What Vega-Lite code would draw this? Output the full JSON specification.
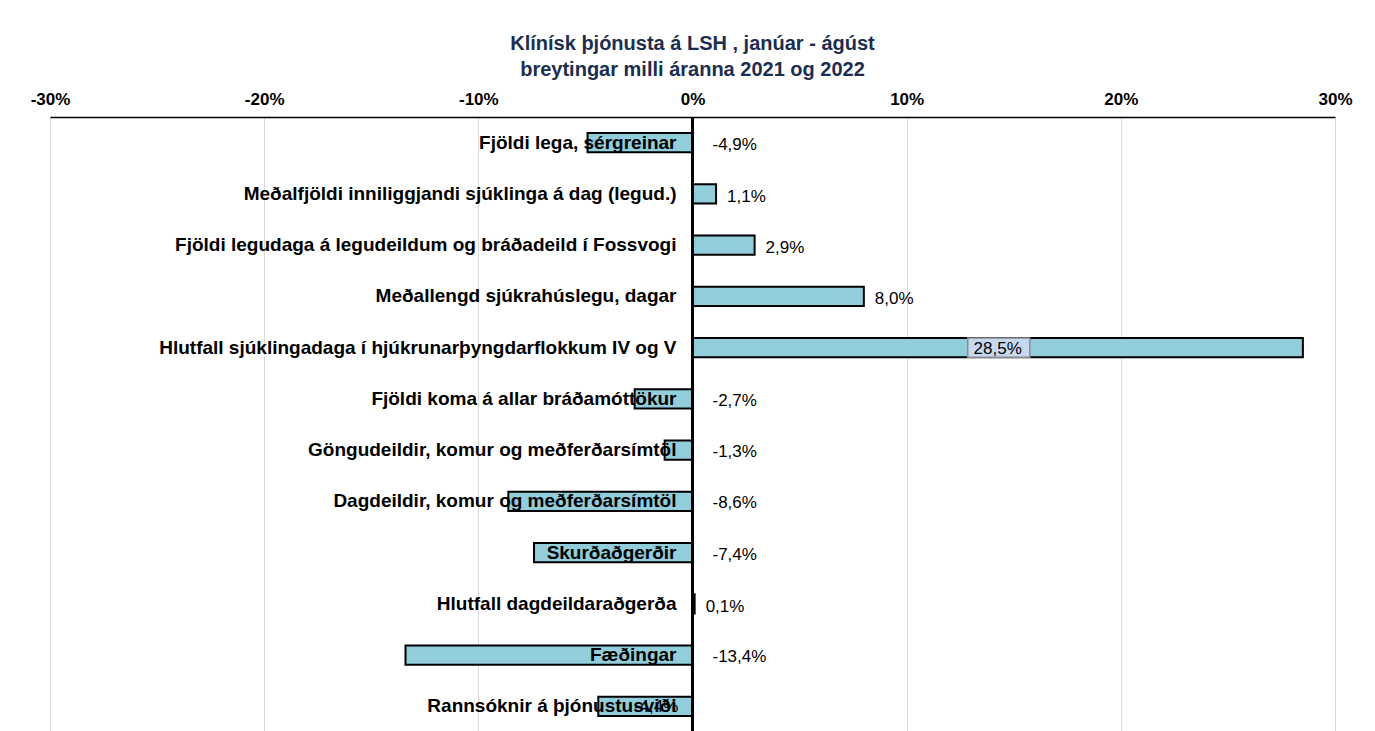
{
  "$schema": "https://vega.github.io/schema/vega-lite/v6.json",
  "width": 1285,
  "height": 615,
  "autosize": "none",
  "padding": {"left": 50, "top": 117, "right": 40, "bottom": 0},
  "background": "white",
  "config": {
    "view": {"stroke": null},
    "locale": {"number": {"decimal": ",", "thousands": ".", "grouping": [3], "currency": ["", ""], "minus": "-"}}
  },
  "title": {
    "text": ["Klínísk þjónusta á LSH ,  janúar - ágúst", "breytingar milli áranna 2021 og 2022"],
    "font": "Liberation Sans",
    "fontSize": 20,
    "fontWeight": "bold",
    "color": "#1c2e4f",
    "anchor": "middle",
    "offset": 10,
    "lineHeight": 26
  },
  "data": {
    "values": [
      {"category": "Fjöldi lega, sérgreinar", "value": -0.049},
      {"category": "Meðalfjöldi inniliggjandi sjúklinga á dag (legud.)", "value": 0.011},
      {"category": "Fjöldi legudaga á legudeildum og bráðadeild í Fossvogi", "value": 0.029},
      {"category": "Meðallengd sjúkrahúslegu, dagar", "value": 0.08},
      {"category": "Hlutfall sjúklingadaga í hjúkrunarþyngdarflokkum IV og V", "value": 0.285},
      {"category": "Fjöldi koma á allar bráðamóttökur", "value": -0.027},
      {"category": "Göngudeildir, komur og meðferðarsímtöl", "value": -0.013},
      {"category": "Dagdeildir, komur og meðferðarsímtöl", "value": -0.086},
      {"category": "Skurðaðgerðir", "value": -0.074},
      {"category": "Hlutfall dagdeildaraðgerða", "value": 0.001},
      {"category": "Fæðingar", "value": -0.134},
      {"category": "Rannsóknir á þjónustusviði", "value": -0.044}
    ]
  },
  "encoding": {
    "y": {
      "field": "category",
      "type": "nominal",
      "sort": null,
      "axis": null,
      "scale": {"paddingInner": 0.62, "paddingOuter": 0.31}
    }
  },
  "layer": [
    {
      "mark": {"type": "bar", "fill": "#92cddc", "stroke": "#000000", "strokeWidth": 2},
      "encoding": {
        "x": {
          "field": "value",
          "type": "quantitative",
          "scale": {"domain": [-0.3, 0.3], "nice": false, "zero": false},
          "axis": {
            "orient": "top",
            "format": ".0%",
            "values": [-0.3, -0.2, -0.1, 0, 0.1, 0.2, 0.3],
            "title": null,
            "labelFont": "Liberation Sans",
            "labelFontSize": 17,
            "labelFontWeight": "bold",
            "labelColor": "#000000",
            "ticks": false,
            "domain": true,
            "domainColor": "#000000",
            "domainWidth": 1.5,
            "grid": true,
            "gridColor": "#d9d9d9",
            "gridWidth": 1,
            "labelPadding": 9,
            "labelFlush": false
          }
        }
      }
    },
    {
      "transform": [{"filter": "datum.value > 0.2"}],
      "mark": {"type": "bar", "fill": "#c6d9f1", "stroke": "#8c8c8c", "strokeWidth": 1.5},
      "encoding": {
        "x": {"datum": 0.1285, "type": "quantitative"},
        "x2": {"datum": 0.1575}
      }
    },
    {
      "mark": {"type": "rule", "color": "#000000", "strokeWidth": 3},
      "encoding": {"x": {"datum": 0, "type": "quantitative"}, "y": null}
    },
    {
      "mark": {"type": "text", "align": "right", "baseline": "middle", "dx": -16, "font": "Liberation Sans", "fontSize": 19, "fontWeight": "bold", "color": "#000000"},
      "encoding": {
        "x": {"datum": 0, "type": "quantitative"},
        "text": {"field": "category", "type": "nominal"}
      }
    },
    {
      "transform": [{"filter": "datum.value >= 0 && datum.value < 0.2"}],
      "mark": {"type": "text", "align": "left", "baseline": "middle", "dx": 11, "dy": 3, "font": "Liberation Sans", "fontSize": 17, "color": "#000000"},
      "encoding": {
        "x": {"field": "value", "type": "quantitative"},
        "text": {"field": "value", "type": "quantitative", "format": ".1%"}
      }
    },
    {
      "transform": [{"filter": "datum.value < 0 && datum.category !== 'Rannsóknir á þjónustusviði'"}],
      "mark": {"type": "text", "align": "left", "baseline": "middle", "dx": 20, "dy": 2, "font": "Liberation Sans", "fontSize": 17, "color": "#000000"},
      "encoding": {
        "x": {"datum": 0, "type": "quantitative"},
        "text": {"field": "value", "type": "quantitative", "format": ".1%"}
      }
    },
    {
      "transform": [{"filter": "datum.category === 'Rannsóknir á þjónustusviði'"}],
      "mark": {"type": "text", "align": "center", "baseline": "middle", "dy": 1, "font": "Liberation Sans", "fontSize": 17, "color": "#000000"},
      "encoding": {
        "x": {"datum": -0.017, "type": "quantitative"},
        "text": {"field": "value", "type": "quantitative", "format": ".1%"}
      }
    },
    {
      "transform": [{"filter": "datum.value > 0.2"}],
      "mark": {"type": "text", "align": "center", "baseline": "middle", "dy": 1, "font": "Liberation Sans", "fontSize": 17, "color": "#000000"},
      "encoding": {
        "x": {"datum": 0.1425, "type": "quantitative"},
        "text": {"field": "value", "type": "quantitative", "format": ".1%"}
      }
    }
  ]
}
